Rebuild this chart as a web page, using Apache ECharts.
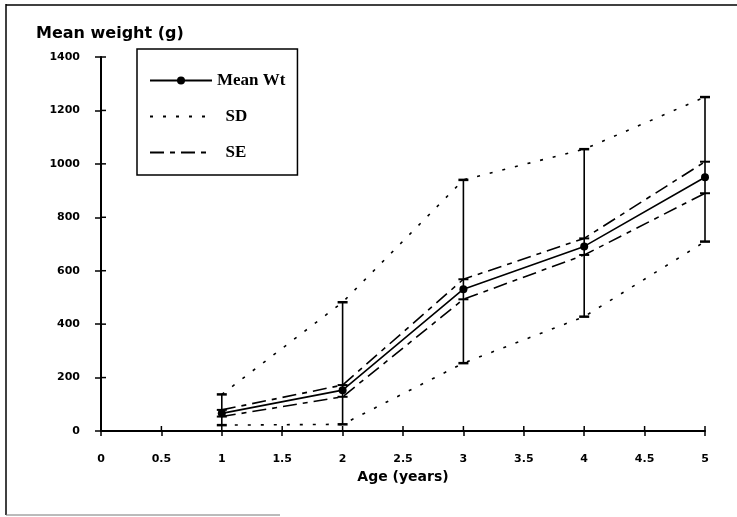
<!DOCTYPE html>
<html>
<head>
<meta charset="utf-8">
<script src="https://cdn.jsdelivr.net/npm/echarts@6/dist/echarts.min.js"></script>
<style>
  html, body { margin: 0; padding: 0; background: #fff; }
  #main { width: 737px; height: 517px; }
</style>
</head>
<body>
<div id="main"></div>
<script>
// ages (years)
var ages = [1, 2, 3, 4, 5];
// mean weight (g)
var meanWt = [66, 153, 531, 691, 950];
// mean +/- SD
var sdUpper = [137, 482, 940, 1055, 1250];
var sdLower = [22, 25, 254, 428, 709];
// mean +/- SE
var seUpper = [79, 172, 568, 721, 1008];
var seLower = [54, 128, 493, 659, 890];
// axis ticks
var xTicks = [0, 0.5, 1, 1.5, 2, 2.5, 3, 3.5, 4, 4.5, 5];
var yTicks = [0, 200, 400, 600, 800, 1000, 1200, 1400];

function pairs(ys) {
  return ages.map(function (a, i) { return [a, ys[i]]; });
}

var errData = ages.map(function (a, i) {
  return [a, sdLower[i], sdUpper[i], seLower[i], seUpper[i]];
});

var chart = echarts.init(document.getElementById('main'));

var labelFont = {
  color: '#000', fontFamily: 'DejaVu Sans', fontWeight: 'bold', fontSize: 11
};
var tickStyle = { color: '#000', width: 1.5 };

chart.setOption({
  animation: false,
  backgroundColor: '#fff',
  grid: { left: 101, right: 32, top: 57, bottom: 86 },
  title: {
    text: 'Mean weight (g)',
    left: 31, top: 21,
    textStyle: { fontFamily: 'DejaVu Sans', fontWeight: 'bold', fontSize: 16, color: '#000' }
  },
  legend: {
    orient: 'vertical',
    left: 137, top: 49,
    width: 160,
    padding: [23, 12, 14, 12],
    itemGap: 19,
    itemWidth: 62,
    itemHeight: 10,
    borderColor: '#000',
    borderWidth: 1.5,
    backgroundColor: '#fff',
    data: [
      { name: 'Mean Wt' },
      { name: 'SD', itemStyle: { opacity: 0 } },
      { name: 'SE', itemStyle: { opacity: 0 } }
    ],
    textStyle: { fontFamily: 'Liberation Serif', fontWeight: 'bold', fontSize: 17, color: '#000' },
    formatter: function (n) { return n === 'Mean Wt' ? n : '  ' + n; }
  },
  xAxis: {
    type: 'value', min: 0, max: 5, interval: 0.5,
    name: 'Age (years)', nameLocation: 'middle', nameGap: 39,
    nameTextStyle: { fontFamily: 'DejaVu Sans', fontWeight: 'bold', fontSize: 14, color: '#000' },
    axisLine: { show: true, lineStyle: { color: '#000', width: 2 } },
    axisTick: { show: true, length: 5, lineStyle: tickStyle },
    splitLine: { show: false },
    axisLabel: Object.assign({ margin: 23, formatter: function (v) { return xTicks.indexOf(v) >= 0 ? String(v) : ''; } }, labelFont)
  },
  yAxis: {
    type: 'value', min: 0, max: 1400, interval: 200,
    axisLine: { show: true, lineStyle: { color: '#000', width: 2 } },
    axisTick: { show: true, length: 6, lineStyle: tickStyle },
    splitLine: { show: false },
    axisLabel: Object.assign({ margin: 21, formatter: function (v) { return yTicks.indexOf(v) >= 0 ? String(v) : ''; } }, labelFont)
  },
  graphic: [
    { type: 'line', shape: { x1: 6, y1: 4, x2: 6, y2: 515 }, style: { stroke: '#000', lineWidth: 1.5 } },
    { type: 'line', shape: { x1: 6, y1: 5, x2: 737, y2: 5 }, style: { stroke: '#000', lineWidth: 1.5 } },
    { type: 'line', shape: { x1: 6, y1: 515, x2: 280, y2: 515 }, style: { stroke: '#777', lineWidth: 1 } }
  ],
  series: [
    {
      // inner halves of the crossing x ticks
      name: 'xTickIn', type: 'custom', silent: true, z: 5,
      data: xTicks.map(function (v) { return [v, 0]; }),
      renderItem: function (params, api) {
        var p = api.coord([api.value(0), 0]);
        return { type: 'line', shape: { x1: p[0], y1: p[1], x2: p[0], y2: p[1] - 5 }, style: { stroke: '#000', lineWidth: 1.5 } };
      }
    },
    {
      // inner halves of the crossing y ticks
      name: 'yTickIn', type: 'custom', silent: true, z: 5,
      data: yTicks.map(function (v) { return [0, v]; }),
      renderItem: function (params, api) {
        var p = api.coord([0, api.value(1)]);
        return { type: 'line', shape: { x1: p[0], y1: p[1], x2: p[0] + 5, y2: p[1] }, style: { stroke: '#000', lineWidth: 1.5 } };
      }
    },
    {
      name: 'SD', type: 'line', data: pairs(sdUpper), symbol: 'none', silent: true,
      lineStyle: { color: '#000', width: 1.6, type: [3, 10] }, itemStyle: { color: '#000' }
    },
    {
      name: 'SD', type: 'line', data: pairs(sdLower), symbol: 'none', silent: true,
      lineStyle: { color: '#000', width: 1.6, type: [3, 10] }, itemStyle: { color: '#000' }
    },
    {
      name: 'SE', type: 'line', data: pairs(seUpper), symbol: 'none', silent: true,
      lineStyle: { color: '#000', width: 1.6, type: [14, 6, 5, 6] }, itemStyle: { color: '#000' }
    },
    {
      name: 'SE', type: 'line', data: pairs(seLower), symbol: 'none', silent: true,
      lineStyle: { color: '#000', width: 1.6, type: [14, 6, 5, 6] }, itemStyle: { color: '#000' }
    },
    {
      name: 'errbars', type: 'custom', data: errData, silent: true, z: 3,
      renderItem: function (params, api) {
        var x = api.value(0);
        var lo = api.coord([x, api.value(1)]);
        var hi = api.coord([x, api.value(2)]);
        var seLo = api.coord([x, api.value(3)]);
        var seHi = api.coord([x, api.value(4)]);
        var st = { stroke: '#000', lineWidth: 1.6 };
        var cap = 5;
        return {
          type: 'group',
          children: [
            { type: 'line', shape: { x1: lo[0], y1: lo[1], x2: hi[0], y2: hi[1] }, style: st },
            { type: 'line', shape: { x1: lo[0] - cap, y1: lo[1], x2: lo[0] + cap, y2: lo[1] }, style: { stroke: '#000', lineWidth: 2.5 } },
            { type: 'line', shape: { x1: hi[0] - cap, y1: hi[1], x2: hi[0] + cap, y2: hi[1] }, style: { stroke: '#000', lineWidth: 2.5 } },
            { type: 'line', shape: { x1: seLo[0] - cap, y1: seLo[1], x2: seLo[0] + cap, y2: seLo[1] }, style: { stroke: '#000', lineWidth: 2 } },
            { type: 'line', shape: { x1: seHi[0] - cap, y1: seHi[1], x2: seHi[0] + cap, y2: seHi[1] }, style: { stroke: '#000', lineWidth: 2 } }
          ]
        };
      }
    },
    {
      name: 'Mean Wt', type: 'line', data: pairs(meanWt), z: 4,
      symbol: 'circle', symbolSize: 8,
      lineStyle: { color: '#000', width: 1.6 }, itemStyle: { color: '#000' }
    }
  ]
});
</script>
</body>
</html>
